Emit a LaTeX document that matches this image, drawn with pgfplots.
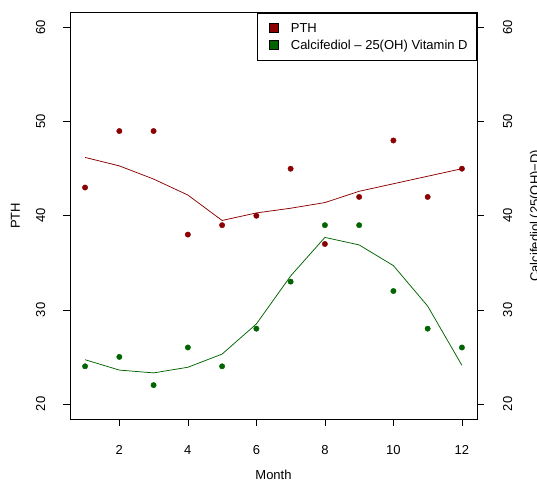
\documentclass[border=0pt]{standalone}
\usepackage{fontspec}
\setmainfont{Liberation Sans}
\usepackage{pgfplots}
\pgfplotsset{compat=1.18}
\usepackage{pgfplotstable}
\definecolor{pthred}{RGB}{139,0,0}
\definecolor{vitgreen}{RGB}{0,100,0}

\pgfplotstableread{
month pth pthfit vitd vitdfit
1 43 46.2 24 24.7
2 49 45.3 25 23.6
3 49 43.9 22 23.3
4 38 42.2 26 23.9
5 39 39.5 24 25.3
6 40 40.3 28 28.5
7 45 40.8 33 33.6
8 37 41.4 39 37.7
9 42 42.6 39 36.9
10 48 43.4 32 34.7
11 42 44.2 28 30.4
12 45 45.0 26 24.1
}\datatable

\begin{document}
\fontsize{13}{15.6}\selectfont
\begin{tikzpicture}
\useasboundingbox (-70pt,-61pt) rectangle (467pt,419pt);
\pgfplotsset{
  common/.style={
    at={(0pt,0pt)}, anchor=south west, scale only axis,
    width=407pt, height=406.5pt,
    xmin=0.56, xmax=12.44, ymin=18.4, ymax=61.6,
    axis line style={line width=0.8pt, black},
    tick align=outside, major tick length=7.2pt,
    major tick style={black, line width=0.6pt},
    tick label style={inner sep=0pt},
    label style={inner sep=0pt},
    /pgf/number format/assume math mode=true,
    clip=false,
  }
}
\begin{axis}[common,
  xtick={2,4,...,12}, xtick pos=left,
  ytick={20,30,...,60}, ytick pos=left,
  xticklabel style={anchor=base, yshift=-28.3pt},
  yticklabel style={xshift=-17.7pt, rotate=90, anchor=base},
  xlabel={Month}, ylabel={PTH},
  every axis x label/.style={at={(rel axis cs:0.5,0)}, yshift=-60pt, anchor=base, inner sep=0pt},
  every axis y label/.style={at={(rel axis cs:0,0.5)}, xshift=-50pt, rotate=90, anchor=base, inner sep=0pt},
  legend style={at={(rel axis cs:1,1)}, anchor=north east, draw=black, line width=0.7pt,
    inner xsep=9pt, inner ysep=10.5pt, row sep=7.2pt, column sep=12.3pt,
    nodes={inner sep=0pt, text height=9.5pt, text depth=0pt}},
  legend cell align=left,
]
\addplot[only marks, mark=*, mark size=2.7pt, color=pthred, forget plot] table[x=month, y=pth] {\datatable};
\addplot[no marks, line width=0.75pt, color=pthred, forget plot] table[x=month, y=pthfit] {\datatable};
\addplot[only marks, mark=*, mark size=2.7pt, color=vitgreen, forget plot] table[x=month, y=vitd] {\datatable};
\addplot[no marks, line width=0.75pt, color=vitgreen, forget plot] table[x=month, y=vitdfit] {\datatable};
\addlegendimage{legend image code/.code={\path (0pt,0pt); \draw[fill=pthred, draw=black, line width=0.5pt] (3pt,-4.5pt) rectangle (12pt,4.5pt);}}
\addlegendentry{PTH}
\addlegendimage{legend image code/.code={\path (0pt,0pt); \draw[fill=vitgreen, draw=black, line width=0.5pt] (3pt,-4.5pt) rectangle (12pt,4.5pt);}}
\addlegendentry{Calcifediol -- 25(OH) Vitamin D}
\end{axis}
\begin{axis}[common,
  xtick=\empty,
  ytick={20,30,...,60}, ytick pos=right, yticklabel pos=right,
  yticklabel style={xshift=28pt, rotate=90, anchor=base},
  ylabel={Calcifediol (25(OH)−D)},
  every axis y label/.style={at={(rel axis cs:1,0.5)}, xshift=62.3pt, rotate=90, anchor=base, inner sep=0pt},
]
\end{axis}
\end{tikzpicture}
\end{document}
